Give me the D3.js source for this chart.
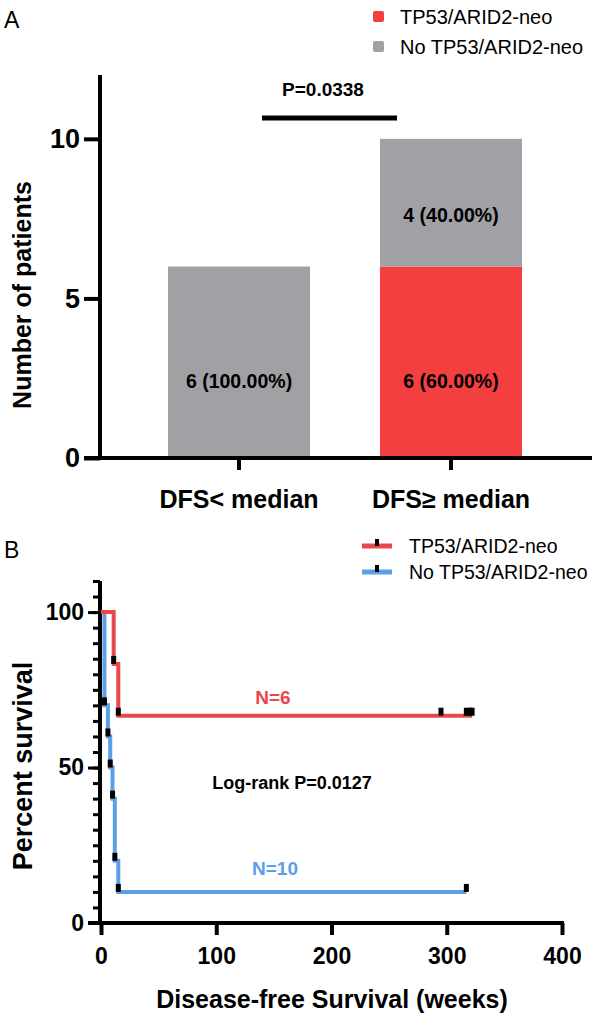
<!DOCTYPE html>
<html>
<head>
<meta charset="utf-8">
<script src="https://cdn.jsdelivr.net/npm/d3@7"></script>
<style>
  html, body { margin: 0; padding: 0; background: #fff; }
  svg { display: block; font-family: "Liberation Sans", Arial, sans-serif; }
</style>
</head>
<body>
<svg id="chart" width="601" height="1019"></svg>
<script>
// ---------- Panel A data ----------
const categories = ["DFS< median", "DFS\u2265 median"];
const seriesNames = ["TP53/ARID2-neo", "No TP53/ARID2-neo"];
const neoCounts = [0, 6];
const noNeoCounts = [6, 4];
const yTicksA = [0, 5, 10];
const pValueA = "P=0.0338";

// ---------- Panel B data ----------
const groupNames = ["TP53/ARID2-neo", "No TP53/ARID2-neo"];
const redTimes  = [11, 15, 295, 317, 320, 322];
const redEvents = [1, 1, 0, 0, 0, 0];
const blueTimes  = [3, 3, 3, 6, 8, 10, 12, 12, 15, 317];
const blueEvents = [1, 1, 1, 1, 1, 1, 1, 1, 1, 0];
const xTicksB = [0, 100, 200, 300, 400];
const yTicksB = [0, 50, 100];
const yMinorB = d3.range(0, 111, 5);
const groupLabels = ["N=6", "N=10"];
const logRankText = "Log-rank P=0.0127";

const RED = "#f43f41";
const GRAY = "#a1a0a5";
const KM_RED = "#e8484b";
const KM_BLUE = "#5b9fe6";
const FONT = "Liberation Sans, Arial, sans-serif";

const svg = d3.select("#chart");

// =============== PANEL A ===============
const A = svg.append("g");
A.append("text").attr("x", 4).attr("y", 28).attr("font-size", 23).text("A");

const yA = d3.scaleLinear().domain([0, 12]).range([458, 75]);
const xA = d3.scaleBand().domain(categories).range([168, 522]).paddingInner(0.33).paddingOuter(0);

const stackRows = categories.map((c, i) => ({cat: c, neo: neoCounts[i], noneo: noNeoCounts[i]}));
const stack = d3.stack().keys(["neo", "noneo"])(stackRows);
const colorsA = {neo: RED, noneo: GRAY};

stack.forEach(layer => {
  A.append("g").selectAll("rect").data(layer).join("rect")
    .attr("x", d => xA(d.data.cat))
    .attr("width", xA.bandwidth())
    .attr("y", d => yA(d[1]))
    .attr("height", d => yA(d[0]) - yA(d[1]))
    .attr("fill", colorsA[layer.key]);
  A.append("g").selectAll("text").data(layer.filter(d => d[1] - d[0] > 0)).join("text")
    .attr("x", d => xA(d.data.cat) + xA.bandwidth() / 2)
    .attr("y", d => yA(d[0] + 0.4 * (d[1] - d[0])))
    .attr("dy", "0.35em")
    .attr("text-anchor", "middle")
    .attr("font-size", 19.5).attr("font-weight", "bold")
    .text(d => {
      const total = d.data.neo + d.data.noneo;
      const v = d[1] - d[0];
      return `${v} (${(v / total * 100).toFixed(2)}%)`;
    });
});

// y axis A
const yAxisA = A.append("g").attr("transform", "translate(100,0)")
  .call(d3.axisLeft(yA).tickValues(yTicksA).tickSize(16).tickPadding(4));
yAxisA.select(".domain").remove();
yAxisA.selectAll(".tick line").attr("stroke", "#000").attr("stroke-width", 4);
yAxisA.selectAll(".tick text").attr("font-size", 27).attr("font-weight", "bold")
  .attr("font-family", FONT).attr("fill", "#000");
A.append("line").attr("x1", 100).attr("x2", 100).attr("y1", yA(12)).attr("y2", yA(0) + 2)
  .attr("stroke", "#000").attr("stroke-width", 4);

// x axis A
A.append("line").attr("x1", 84).attr("x2", 592).attr("y1", yA(0)).attr("y2", yA(0))
  .attr("stroke", "#000").attr("stroke-width", 4);
const xAxisA = A.append("g").attr("transform", `translate(0,${yA(0)})`)
  .call(d3.axisBottom(xA).tickSize(12).tickPadding(20));
xAxisA.select(".domain").remove();
xAxisA.selectAll(".tick line").attr("stroke", "#000").attr("stroke-width", 4);
xAxisA.selectAll(".tick text").attr("font-size", 25).attr("font-weight", "bold")
  .attr("font-family", FONT).attr("fill", "#000");

// y label A
A.append("text").attr("transform", "translate(31,295) rotate(-90)")
  .attr("text-anchor", "middle").attr("font-size", 25).attr("font-weight", "bold")
  .text("Number of patients");

// significance bracket
A.append("line").attr("x1", 262).attr("x2", 397).attr("y1", 118).attr("y2", 118)
  .attr("stroke", "#000").attr("stroke-width", 5);
A.append("text").attr("x", 323).attr("y", 96).attr("text-anchor", "middle")
  .attr("font-size", 19).attr("font-weight", "bold").text(pValueA);

// legend A
const legA = A.append("g");
seriesNames.forEach((n, i) => {
  const y = 17 + i * 30;
  legA.append("rect").attr("x", 373).attr("y", y - 6).attr("width", 11).attr("height", 11)
    .attr("rx", 2).attr("fill", i === 0 ? RED : GRAY);
  legA.append("text").attr("x", 400).attr("y", y).attr("dy", "0.35em")
    .attr("font-size", 20).text(n);
});

// =============== PANEL B ===============
const B = svg.append("g");
B.append("text").attr("x", 4).attr("y", 558).attr("font-size", 23).text("B");

const xB = d3.scaleLinear().domain([0, 400]).range([101, 562]);
const yB = d3.scaleLinear().domain([0, 110]).range([923, 581]);

function km(times, events) {
  const idx = d3.range(times.length).sort((a, b) => times[a] - times[b]);
  let atRisk = times.length, s = 100;
  const pts = [{t: 0, s: 100}];
  const markMap = new Map();
  idx.forEach(i => {
    if (events[i]) { s = s * (atRisk - 1) / atRisk; }
    atRisk -= 1;
    pts.push({t: times[i], s: s});
    markMap.set(times[i], {t: times[i], s: s});
  });
  return {pts, marks: Array.from(markMap.values())};
}
const redKM = km(redTimes, redEvents);
const blueKM = km(blueTimes, blueEvents);

const line = d3.line().x(d => xB(d.t)).y(d => yB(d.s)).curve(d3.curveStepAfter);

// axes B
const yAxisBminor = B.append("g").attr("transform", "translate(100,0)")
  .call(d3.axisLeft(yB).tickValues(yMinorB).tickSize(7).tickFormat(""));
yAxisBminor.select(".domain").remove();
yAxisBminor.selectAll(".tick line").attr("stroke", "#000").attr("stroke-width", 3);
const yAxisB = B.append("g").attr("transform", "translate(100,0)")
  .call(d3.axisLeft(yB).tickValues(yTicksB).tickSize(12).tickPadding(4));
yAxisB.select(".domain").remove();
yAxisB.selectAll(".tick line").attr("stroke", "#000").attr("stroke-width", 3);
yAxisB.selectAll(".tick text").attr("font-size", 23).attr("font-weight", "bold")
  .attr("font-family", FONT).attr("fill", "#000");
B.append("line").attr("x1", 100).attr("x2", 100).attr("y1", yB(110)).attr("y2", yB(0) + 2)
  .attr("stroke", "#000").attr("stroke-width", 4);

B.append("line").attr("x1", 88).attr("x2", xB(400) + 2).attr("y1", yB(0)).attr("y2", yB(0))
  .attr("stroke", "#000").attr("stroke-width", 4);
const xAxisB = B.append("g").attr("transform", `translate(0,${yB(0)})`)
  .call(d3.axisBottom(xB).tickValues(xTicksB).tickSize(12).tickPadding(13));
xAxisB.select(".domain").remove();
xAxisB.selectAll(".tick line").attr("stroke", "#000").attr("stroke-width", 4);
xAxisB.selectAll(".tick text").attr("font-size", 23).attr("font-weight", "bold")
  .attr("font-family", FONT).attr("fill", "#000");

// curves
[[blueKM, KM_BLUE], [redKM, KM_RED]].forEach(([k, col]) => {
  B.append("path").datum(k.pts).attr("d", line)
    .attr("fill", "none").attr("stroke", col).attr("stroke-width", 4);
});
[blueKM, redKM].forEach(k => {
  B.append("g").selectAll("rect").data(k.marks).join("rect")
    .attr("x", d => xB(d.t) - 2.5).attr("y", d => yB(d.s) - 8)
    .attr("width", 5).attr("height", 8).attr("fill", "#000");
});

// labels
B.append("text").attr("x", 273).attr("y", 697).attr("dy", "0.35em").attr("text-anchor", "middle")
  .attr("font-size", 19).attr("font-weight", "bold").attr("fill", KM_RED).text(groupLabels[0]);
B.append("text").attr("x", 275).attr("y", 868).attr("dy", "0.35em").attr("text-anchor", "middle")
  .attr("font-size", 19).attr("font-weight", "bold").attr("fill", KM_BLUE).text(groupLabels[1]);
B.append("text").attr("x", 292).attr("y", 783).attr("dy", "0.35em").attr("text-anchor", "middle")
  .attr("font-size", 18).attr("font-weight", "bold").text(logRankText);

// axis titles
B.append("text").attr("transform", "translate(32,766) rotate(-90)")
  .attr("text-anchor", "middle").attr("font-size", 27).attr("font-weight", "bold")
  .text("Percent survival");
B.append("text").attr("x", 332).attr("y", 1008).attr("text-anchor", "middle")
  .attr("font-size", 25).attr("font-weight", "bold").text("Disease-free Survival (weeks)");

// legend B
const legB = B.append("g");
groupNames.forEach((n, i) => {
  const y = 546 + i * 26;
  const col = i === 0 ? KM_RED : KM_BLUE;
  legB.append("line").attr("x1", 362).attr("x2", 392).attr("y1", y).attr("y2", y)
    .attr("stroke", col).attr("stroke-width", 5);
  legB.append("rect").attr("x", 375).attr("y", y - 7).attr("width", 4).attr("height", 7).attr("fill", "#000");
  legB.append("text").attr("x", 409).attr("y", y).attr("dy", "0.35em")
    .attr("font-size", 19.5).text(n);
});
</script>
</body>
</html>
